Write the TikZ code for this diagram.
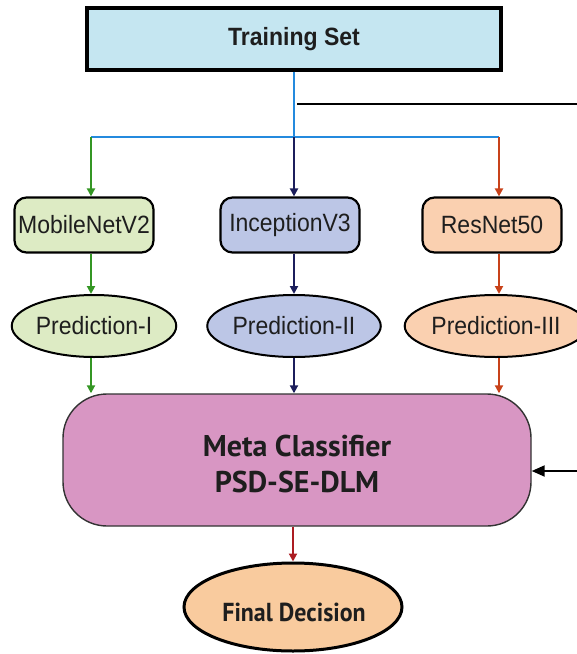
\documentclass[tikz,border=0pt]{standalone}
\usepackage{fontspec}
\setmainfont{Liberation Sans}
\newfontfamily\narrowsans{Liberation Sans}[FakeStretch=0.92]
\newfontfamily\humanist{PT Sans}
\newfontfamily\humanistnarrow{PT Sans}[FakeStretch=0.92]
\usetikzlibrary{shapes.geometric,arrows.meta}

\definecolor{trainfill}{RGB}{197,230,241}
\definecolor{busblue}{RGB}{36,138,222}
\definecolor{leafgreen}{RGB}{52,150,36}
\definecolor{navy}{RGB}{28,30,92}
\definecolor{rust}{RGB}{200,66,26}
\definecolor{darkred}{RGB}{172,28,34}
\definecolor{greenfill}{RGB}{221,235,196}
\definecolor{bluefill}{RGB}{188,198,230}
\definecolor{peachfill}{RGB}{250,208,176}
\definecolor{metafill}{RGB}{216,150,195}
\definecolor{finalfill}{RGB}{249,203,158}
\definecolor{inktext}{RGB}{30,30,30}

\tikzset{
  trainbox/.style={draw=black, line width=3.2pt, fill=trainfill, minimum width=414pt,
    minimum height=62pt, inner sep=0pt, font=\narrowsans\fontsize{25}{29}\selectfont\bfseries, text=inktext},
  modelbox/.style={draw=black, line width=2.2pt, rounded corners=12pt, minimum width=139pt,
    minimum height=55pt, inner sep=0pt, font=\narrowsans\fontsize{25}{29}\selectfont, text=inktext},
  predoval/.style={ellipse, draw=black, line width=2pt, minimum width=146pt,
    minimum height=62pt, inner sep=0pt, font=\narrowsans\fontsize{25}{29}\selectfont, text=inktext},
  metabox/.style={draw=black!80, line width=1.4pt, fill=metafill, rounded corners=44pt,
    minimum width=468pt, minimum height=132pt, inner sep=0pt},
  metatext/.style={align=center, inner sep=0pt, text=inktext,
    font=\humanist\fontsize{30}{36}\selectfont\bfseries},
  finaloval/.style={ellipse, draw=black, line width=3pt, fill=finalfill, minimum width=218pt,
    minimum height=88pt, inner sep=0pt},
  finaltext/.style={inner sep=0pt, text=inktext,
    font=\humanistnarrow\fontsize{26}{30}\selectfont\bfseries},
  tipsmall/.style={-{Triangle[width=8pt,length=8pt]}},
  busline/.style={draw=busblue, line width=2pt},
  greenarrow/.style={tipsmall, draw=leafgreen, fill=leafgreen, line width=2pt},
  navyarrow/.style={tipsmall, draw=navy, fill=navy, line width=2pt},
  rustarrow/.style={tipsmall, draw=rust, fill=rust, line width=2pt},
  redarrow/.style={tipsmall, draw=darkred, fill=darkred, line width=2pt},
  feedline/.style={draw=black, line width=2pt},
  feedarrow/.style={-{Triangle[width=11pt,length=13pt]}, draw=black, line width=2pt},
}

\begin{document}
\begin{tikzpicture}[x=1pt, y=-1pt]
  \useasboundingbox (0,0) rectangle (577,654);

  % input data
  \node[trainbox] (train) at (294,39) {Training Set};

  % distribution bus
  \coordinate (bus)  at (294,137);
  \coordinate (busL) at (91,137);
  \coordinate (busR) at (499,137);
  \coordinate (tap)  at (297,104);
  \coordinate (tapR) at (577,104);

  % base learners
  \node[modelbox, fill=greenfill] (mobile) at (84,225) {MobileNetV2};
  \node[modelbox, fill=bluefill]  (incep)  at (290,225) {InceptionV3};
  \node[modelbox, fill=peachfill] (resnet) at (492,225) {ResNet50};

  % predictions
  \node[predoval, fill=greenfill] (pred1) at (94,326) {Prediction-I};
  \node[predoval, fill=bluefill]  (pred2) at (294,326) {Prediction-II};
  \node[predoval, fill=peachfill, minimum width=144pt] (pred3) at (496,326) {Prediction-III};

  % stacking: the shape, with its caption set a little below centre
  \node[metabox] (meta) at (297,460)
    {};
  \node[metatext] (metacap) at (297,464) {Meta Classifier\\PSD-SE-DLM};
  \node[finaloval] (final) at (293,607) {};
  \node[finaltext] (finalcap) at (294,612) {Final Decision};

  % training set fan-out
  \draw[busline] (train.south) -- (bus);
  \draw[busline] (busL) -- (busR);
  \draw[feedline] (tap) -- (tapR);
  \draw[greenarrow] (busL) -- (busL |- mobile.north);
  \draw[navyarrow]  (bus)  -- (bus |- incep.north);
  \draw[rustarrow]  (busR) -- (busR |- resnet.north);

  % learner to prediction
  \draw[greenarrow] (busL |- mobile.south) -- (busL |- pred1.north);
  \draw[navyarrow]  (bus |- incep.south)   -- (bus |- pred2.north);
  \draw[rustarrow]  (busR |- resnet.south) -- (busR |- pred3.north);

  % prediction to meta classifier
  \draw[greenarrow] (busL |- pred1.south) -- (busL |- meta.north);
  \draw[navyarrow]  (bus |- pred2.south)  -- (bus |- meta.north);
  \draw[rustarrow]  (busR |- pred3.south) -- (busR |- meta.north);

  % training data fed to the meta classifier
  \coordinate (feedR) at (577,471);
  \draw[feedarrow] (feedR) -- (feedR -| meta.east);

  % output
  \draw[redarrow] (final.north |- meta.south) -- (final.north);
\end{tikzpicture}
\end{document}
